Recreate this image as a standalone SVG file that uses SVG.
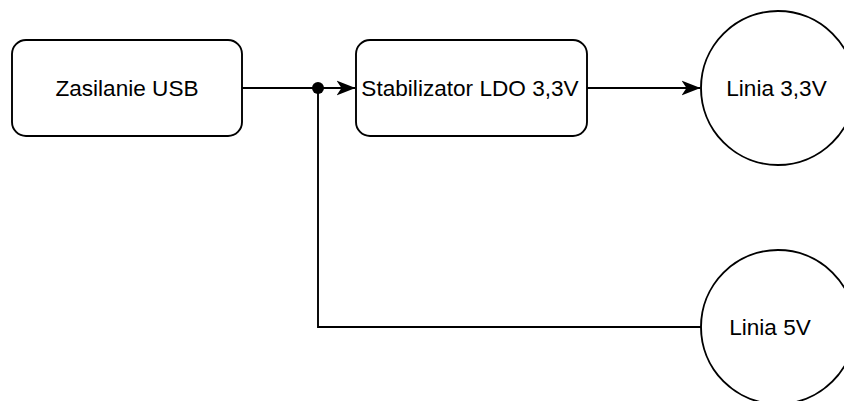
<svg xmlns="http://www.w3.org/2000/svg" width="844" height="401" viewBox="0 0 844 401">
  <style>
    .shape { fill: #ffffff; stroke: #000000; stroke-width: 1.9; }
    .wire { fill: none; stroke: #000000; stroke-width: 1.9; }
    .label { font-family: "Liberation Sans", Arial, Helvetica, sans-serif; font-size: 22.6px; fill: #000000; text-anchor: middle; }
  </style>
  <defs>
    <marker id="arrow" viewBox="0 0 19 16" refX="18.5" refY="8" markerWidth="19" markerHeight="16" markerUnits="userSpaceOnUse" orient="auto">
      <path d="M0,0.5 L19,8 L0,15.5 L5,8 Z" fill="#000000"/>
    </marker>
  </defs>
  <rect width="844" height="401" fill="#ffffff"/>

  <g id="connectors">
    <!-- USB supply into the LDO regulator -->
    <path class="wire" d="M242,88 L355,88" marker-end="url(#arrow)"/>
    <!-- regulator output to the 3.3V rail -->
    <path class="wire" d="M587,88 L700,88" marker-end="url(#arrow)"/>
    <!-- tap from the junction down to the 5V rail -->
    <path class="wire" d="M318,88 L318,327 L701,327"/>
    <circle cx="318" cy="88" r="6" fill="#000000"/>
  </g>

  <g id="usb-supply">
    <rect class="shape" x="12" y="40" width="230" height="96" rx="14" ry="14"/>
    <text class="label" x="127" y="96">Zasilanie USB</text>
  </g>

  <g id="ldo-regulator">
    <rect class="shape" x="356" y="40" width="231" height="96" rx="14" ry="14"/>
    <text class="label" x="470" y="96">Stabilizator LDO 3,3V</text>
  </g>

  <g id="rail-3v3">
    <circle class="shape" cx="778" cy="88" r="77"/>
    <text class="label" x="776.5" y="96">Linia 3,3V</text>
  </g>

  <g id="rail-5v">
    <circle class="shape" cx="778" cy="327" r="77"/>
    <text class="label" x="770" y="335">Linia 5V</text>
  </g>
</svg>
